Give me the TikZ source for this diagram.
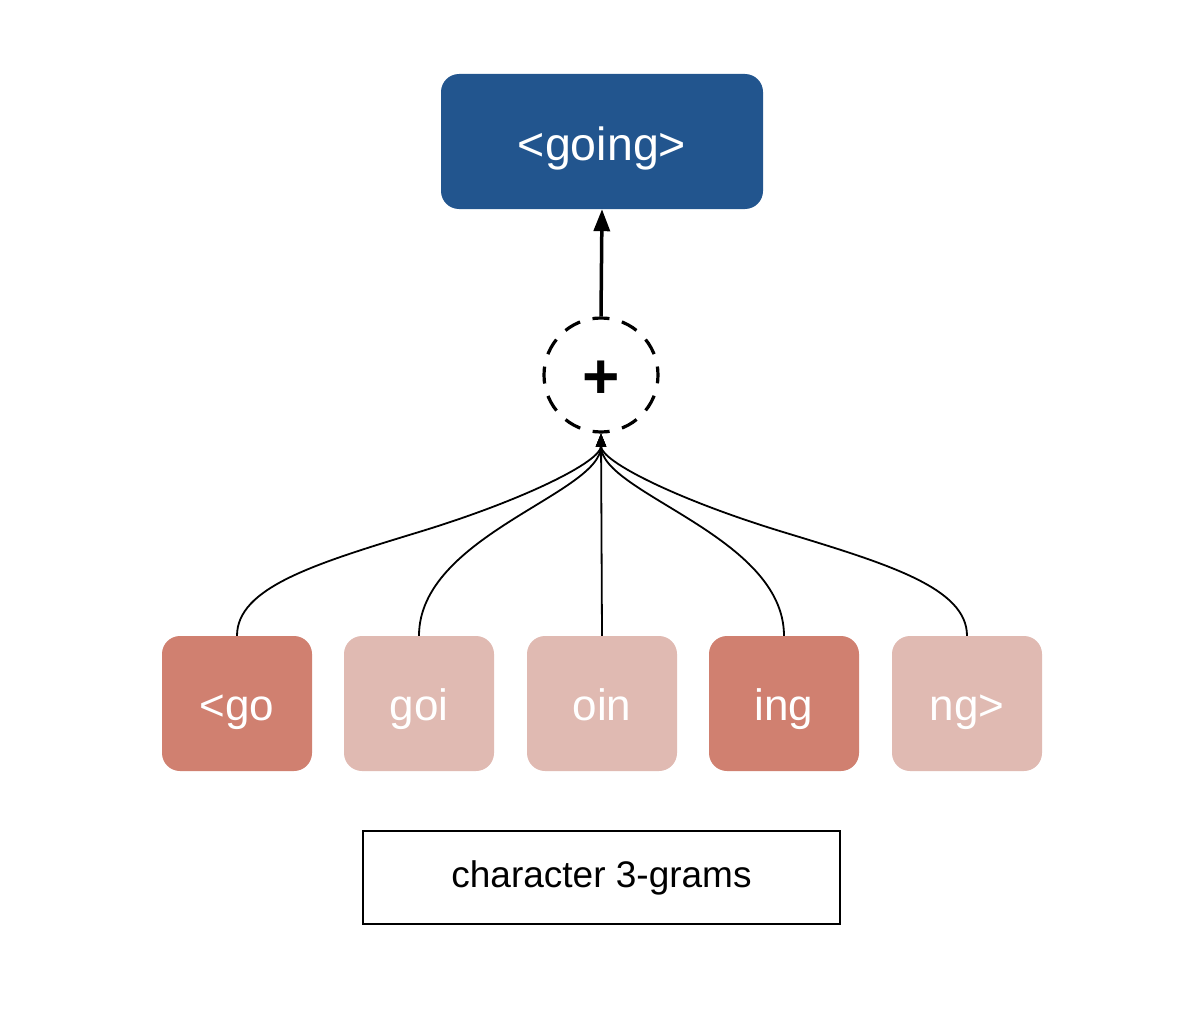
\documentclass[tikz,border=0pt]{standalone}
\usepackage{fontspec}
\setmainfont{Liberation Sans}
\usetikzlibrary{arrows.meta}
\definecolor{topblue}{HTML}{22558E}
\definecolor{gramdark}{HTML}{D08070}
\definecolor{gramlight}{HTML}{E0BAB2}
\begin{document}
\begin{tikzpicture}[x=1pt,y=-1pt,
  topbox/.style={fill=topblue, rounded corners=18pt, minimum width=322pt, minimum height=135pt, inner sep=0pt, text=white, font=\fontsize{46.5}{46.5}\selectfont, text height=44pt, text depth=7pt},
  gram/.style={rounded corners=18pt, minimum width=150pt, minimum height=135pt, inner sep=0pt, text=white, font=\fontsize{44}{44}\selectfont, text height=40pt, text depth=7pt},
  dark/.style={gram, fill=gramdark},
  light/.style={gram, fill=gramlight},
  sumnode/.style={circle, draw=black, line width=3.2pt, dash pattern=on 17pt off 12.85pt, dash phase=8.5pt, minimum size=114pt, inner sep=0pt, font=\fontsize{64}{64}\selectfont\bfseries, text height=47pt, text depth=0pt},
  feed/.style={draw=black, line width=1.8pt, -{Triangle[length=13pt,width=10pt]}},
  mainarrow/.style={draw=black, line width=3.5pt, -{Triangle[length=22pt,width=16pt]}},
  caption/.style={draw=black, line width=1.5pt, minimum width=477pt, minimum height=93pt, inner sep=0pt, font=\fontsize{37}{37}\selectfont, text height=26pt, text depth=7pt}
]
\useasboundingbox (0,0) rectangle (1200,1025);
\node[topbox] (word) at (602,141.5) {<going>};
\node[sumnode] (sum) at (601,375) {+};
\node[dark]  (g1) at (237,703.5) {<go};
\node[light] (g2) at (419,703.5) {goi};
\node[light] (g3) at (602,703.5) {oin};
\node[dark]  (g4) at (784,703.5) {ing};
\node[light] (g5) at (967,703.5) {ng>};
\node[caption] (cap) at (601.5,877.5) {character 3-grams};
\coordinate (m1) at (419,532);
\coordinate (m5) at (783,532);
\draw[mainarrow] (sum.north) -- (word.south);
\draw[feed] (g1.north) .. controls +(0,-48) and +(-105,32) .. (m1)
  .. controls +(105,-32) and +(0,28) .. (sum.south);
\draw[feed] (g5.north) .. controls +(0,-48) and +(105,32) .. (m5)
  .. controls +(-105,-32) and +(0,28) .. (sum.south);
\draw[feed] (g2.north) .. controls +(0,-100) and +(0,60) .. (sum.south);
\draw[feed] (g4.north) .. controls +(0,-100) and +(0,60) .. (sum.south);
\draw[feed] (g3.north) -- (sum.south);
\end{tikzpicture}
\end{document}
